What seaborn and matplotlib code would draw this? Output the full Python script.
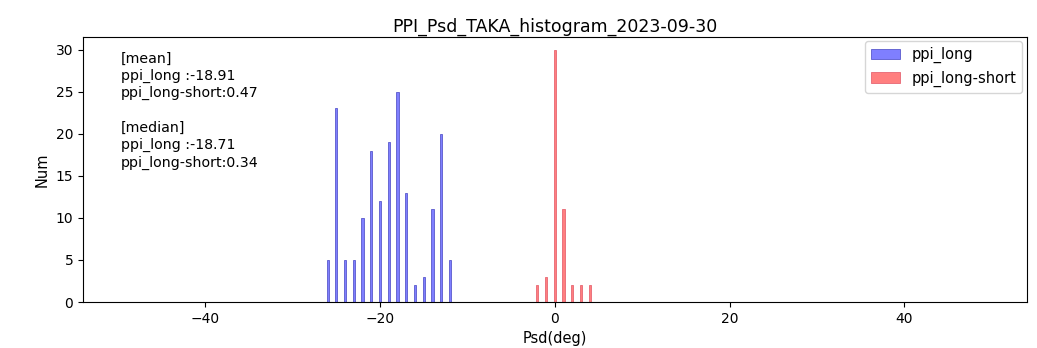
import numpy as np
import pandas as pd
import matplotlib
matplotlib.use("Agg")
import matplotlib.pyplot as plt
import seaborn as sns

# histogram values (integer psd bins)
long_psd = [-26, -25, -24, -23, -22, -21, -20, -19, -18, -17, -16, -15, -14, -13, -12]
long_num = [5, 23, 5, 5, 10, 18, 12, 19, 25, 13, 2, 3, 11, 20, 5]
diff_psd = [-2, -1, 0, 1, 2, 3, 4]
diff_num = [2, 3, 30, 11, 2, 2, 2]

stats_text = ("[mean]\nppi_long :-18.91\nppi_long-short:0.47\n\n"
              "[median]\nppi_long :-18.71\nppi_long-short:0.34")

df_long = pd.DataFrame({"psd": long_psd, "num": long_num})
df_diff = pd.DataFrame({"psd": diff_psd, "num": diff_num})

bins = list(np.arange(-50.125, 50.2, 0.25))

fig = plt.figure(figsize=(10.37, 3.48), dpi=100)
ax = fig.add_axes([0.08, 0.132, 0.91, 0.762])

sns.histplot(data=df_long, x="psd", weights="num", bins=bins, color="blue", alpha=0.5,
             edgecolor=(0.35, 0.35, 0.8), linewidth=0.6, ax=ax, label="ppi_long")
sns.histplot(data=df_diff, x="psd", weights="num", bins=bins, color="red", alpha=0.5,
             edgecolor=(0.9, 0.4, 0.45), linewidth=0.6, ax=ax, label="ppi_long-short")

ax.set_xlim(-54, 54)
ax.set_ylim(0, 31.5)
ax.set_xticks([-40, -20, 0, 20, 40])
ax.set_title("PPI_Psd_TAKA_histogram_2023-09-30", fontsize=12.5, pad=4)
ax.set_xlabel("Psd(deg)", fontsize=10.5)
ax.set_ylabel("Num", fontsize=10.5)
ax.tick_params(labelsize=10)
ax.text(0.04, 0.945, stats_text, transform=ax.transAxes, va="top", ha="left",
        fontsize=10.2, linespacing=1.3)
ax.legend(loc="upper right", fontsize=10.5, borderaxespad=0.3)

fig.savefig("out.png", dpi=100)
